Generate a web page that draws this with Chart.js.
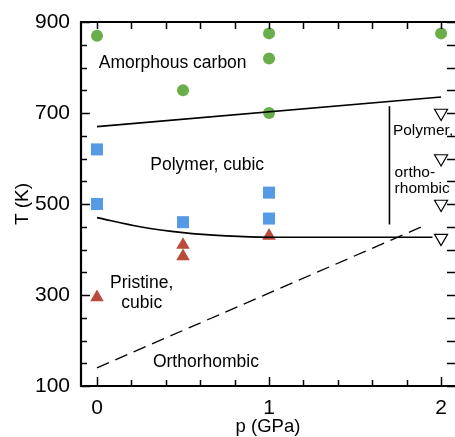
<!DOCTYPE html>
<html>
<head>
<meta charset="utf-8">
<script src="https://cdn.jsdelivr.net/npm/chart.js@4/dist/chart.umd.min.js"></script>
<style>
  html, body { margin: 0; padding: 0; background: #fff; }
  #wrap { width: 455px; height: 437px; }
</style>
</head>
<body>
<div id="wrap"><canvas id="chart" width="455" height="437"></canvas></div>
<script>
// measured points: pressure p (GPa), temperature T (K)
var amorphP = [0, 0.5, 1, 1, 1, 2];
var amorphT = [870, 750, 875, 820, 700, 875];
var cubicP = [0, 0, 0.5, 1, 1];
var cubicT = [620, 500, 460, 525, 468];
var pristineP = [0, 0.5, 0.5, 1];
var pristineT = [295, 410, 385, 430];
var orthoP = [2, 2, 2, 2];
var orthoT = [700, 600, 500, 425];

// phase boundaries
var upperP = [0, 2];
var upperT = [670, 735];
var lowerP = [0, 0.25, 0.5, 0.75, 1, 1.5, 1.95];
var lowerT = [470, 450, 437, 430, 427, 427, 427];
var dashP = [0, 1.9];
var dashT = [140, 452];
var vertP = [1.7, 1.7];
var vertT = [715, 455];

// axis labels
var xLabels = [0, 1, 2];
var yLabels = [100, 300, 500, 700, 900];

// region names, anchored in data units
var regionNames = [
  { lines: ['Amorphous carbon'], p: 0.01, T: 810, align: 'left' },
  { lines: ['Polymer, cubic'], p: 0.31, T: 586, align: 'left' },
  { lines: ['Pristine,', 'cubic'], p: 0.26, T: 327, align: 'center' },
  { lines: ['Orthorhombic'], p: 0.325, T: 153, align: 'left' }
];
var sideNames = [
  { lines: ['Polymer,'], p: 1.72, T: 660, align: 'left' },
  { lines: ['ortho-', 'rhombic'], p: 1.73, T: 568, align: 'left' }
];

var FONT = "'Liberation Sans', Arial, Helvetica, sans-serif";

function pts(xs, ys) {
  return xs.map(function (x, i) { return { x: x, y: ys[i] }; });
}

// inward tick marks on all four sides, frame on left/top/bottom
var frameTicks = {
  id: 'frameTicks',
  afterDatasetsDraw: function (chart) {
    var a = chart.chartArea, ctx = chart.ctx;
    var sx = chart.scales.x, sy = chart.scales.y;
    ctx.save();
    ctx.strokeStyle = '#000';
    ctx.lineWidth = 1.5;
    ctx.beginPath();
    for (var i = 0; i <= 10; i++) {
      var v = i * 0.2;
      var px = Math.round(sx.getPixelForValue(v)) + 0.5;
      var len = (i % 5 === 0) ? 9 : 6;
      ctx.moveTo(px, a.bottom); ctx.lineTo(px, a.bottom - len);
      ctx.moveTo(px, a.top); ctx.lineTo(px, a.top + 7);
    }
    for (var t = 100; t <= 900; t += 50) {
      var py = Math.round(sy.getPixelForValue(t)) + 0.5;
      var l2 = ((t - 100) % 200 === 0) ? 9 : 6;
      ctx.moveTo(a.left, py); ctx.lineTo(a.left + l2, py);
      ctx.moveTo(a.right, py); ctx.lineTo(a.right - 8, py);
    }
    ctx.stroke();
    ctx.lineWidth = 2.2;
    ctx.beginPath();
    ctx.moveTo(a.right + 2, a.top);
    ctx.lineTo(a.left, a.top);
    ctx.lineTo(a.left, a.bottom);
    ctx.lineTo(a.right + 2, a.bottom);
    ctx.stroke();
    ctx.restore();
  }
};

var regionText = {
  id: 'regionText',
  afterDatasetsDraw: function (chart) {
    var ctx = chart.ctx, sx = chart.scales.x, sy = chart.scales.y;
    ctx.save();
    ctx.fillStyle = '#000';
    ctx.textBaseline = 'middle';
    function put(list, size, lh) {
      ctx.font = size + 'px ' + FONT;
      list.forEach(function (n) {
        ctx.textAlign = n.align;
        var x = sx.getPixelForValue(n.p), y = sy.getPixelForValue(n.T);
        n.lines.forEach(function (s, k) { ctx.fillText(s, x, y + k * lh); });
      });
    }
    put(regionNames, 17.5, 20);
    put(sideNames, 15.5, 16);
    ctx.restore();
  }
};

function lineSet(xs, ys, extra) {
  var d = {
    type: 'line', data: pts(xs, ys), borderColor: '#000', borderWidth: 1.6,
    pointRadius: 0, fill: false, tension: 0
  };
  for (var k in extra) d[k] = extra[k];
  return d;
}

new Chart(document.getElementById('chart'), {
  type: 'scatter',
  data: {
    datasets: [
      lineSet(upperP, upperT, {}),
      lineSet(lowerP, lowerT, { cubicInterpolationMode: 'monotone' }),
      lineSet(dashP, dashT, { borderDash: [13, 7], borderWidth: 1.3 }),
      lineSet(vertP, vertT, {}),
      { data: pts(amorphP, amorphT), pointStyle: 'circle', pointRadius: 6,
        backgroundColor: '#6aae4b', borderColor: '#6aae4b', borderWidth: 0 },
      { data: pts(cubicP, cubicT), pointStyle: 'rect', pointRadius: 8.5,
        backgroundColor: '#5699e4', borderColor: '#5699e4', borderWidth: 0 },
      { data: pts(pristineP, pristineT), pointStyle: 'triangle', pointRadius: 7.8,
        backgroundColor: '#b94b3a', borderColor: '#b94b3a', borderWidth: 0 },
      { data: pts(orthoP, orthoT), pointStyle: 'triangle', pointRadius: 7.5, rotation: 180,
        pointRotation: 180, backgroundColor: '#fff', borderColor: '#000', borderWidth: 1.2 }
    ]
  },
  options: {
    responsive: false,
    animation: false,
    layout: { autoPadding: false, padding: { top: 22, right: 0, left: 0, bottom: 0 } },
    plugins: { legend: { display: false }, tooltip: { enabled: false } },
    scales: {
      x: {
        type: 'linear', min: -0.093, max: 2.081,
        grid: { display: false, drawTicks: false, tickLength: 0 }, border: { display: false },
        afterBuildTicks: function (s) { s.ticks = xLabels.map(function (v) { return { value: v }; }); },
        afterFit: function (s) { s.height = 51; s.paddingLeft = 0; s.paddingRight = 0; },
        ticks: { padding: 10, color: '#000', font: { family: FONT, size: 21 }, maxRotation: 0 },
        title: { display: true, text: 'p (GPa)', color: '#000', font: { family: FONT, size: 18.5 },
                 padding: { top: 0, bottom: -1 } }
      },
      y: {
        type: 'linear', min: 100, max: 900,
        grid: { display: false, drawTicks: false, tickLength: 0 }, border: { display: false },
        afterBuildTicks: function (s) { s.ticks = yLabels.map(function (v) { return { value: v }; }); },
        afterFit: function (s) { s.width = 81; s.paddingTop = 0; s.paddingBottom = 0; },
        ticks: { padding: 11, color: '#000', font: { family: FONT, size: 21 } },
        title: { display: true, text: 'T (K)', color: '#000', font: { family: FONT, size: 19 },
                 padding: { top: 11, bottom: 0 } }
      }
    }
  },
  plugins: [frameTicks, regionText]
});
</script>
</body>
</html>
